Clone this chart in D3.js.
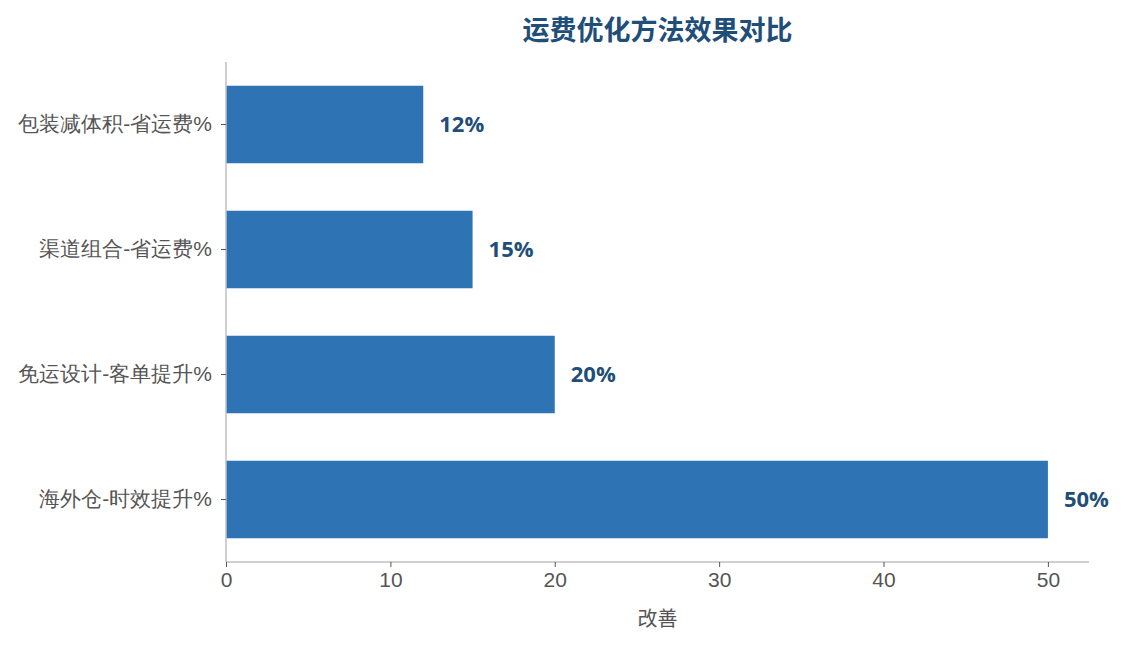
<!DOCTYPE html>
<html>
<head>
<meta charset="utf-8">
<script src="https://cdn.jsdelivr.net/npm/d3@7"></script>
<style>
  body { margin: 0; background: #fff; }
  svg { font-family: "Open Sans", "Noto Sans CJK SC", sans-serif; }
</style>
</head>
<body>
<div id="chart"></div>
<script>
// data
const categories = ["包装减体积-省运费%", "渠道组合-省运费%", "免运设计-客单提升%", "海外仓-时效提升%"];
const values = [12, 15, 20, 50];
const xTicks = [0, 10, 20, 30, 40, 50];

const width = 1125, height = 645;
const margin = {top: 62, right: 36, bottom: 83, left: 226};
const innerW = width - margin.left - margin.right;
const innerH = height - margin.top - margin.bottom;

const svg = d3.select("#chart").append("svg")
    .attr("width", width)
    .attr("height", height);

const g = svg.append("g")
    .attr("transform", `translate(${margin.left},${margin.top})`);

const x = d3.scaleLinear().domain([0, 52.5]).range([0, innerW]);
const y = d3.scaleBand().domain(categories).range([0, innerH])
    .paddingInner(0.38).paddingOuter(0.19);

// bars
g.selectAll("rect.bar")
    .data(categories)
    .join("rect")
    .attr("class", "bar")
    .attr("x", x(0))
    .attr("y", d => y(d))
    .attr("width", (d, i) => x(values[i]) - x(0))
    .attr("height", y.bandwidth())
    .attr("fill", "#2e74b5");

// value labels
g.selectAll("text.val")
    .data(categories)
    .join("text")
    .attr("class", "val")
    .attr("x", (d, i) => x(values[i]) + 16)
    .attr("y", d => y(d) + y.bandwidth() / 2)
    .attr("dy", "0.35em")
    .attr("fill", "#1f4e79")
    .attr("font-weight", "bold")
    .attr("font-size", 22)
    .text((d, i) => values[i] + "%");

// x axis
const xAxis = g.append("g")
    .attr("transform", `translate(0,${innerH})`)
    .call(d3.axisBottom(x).tickValues(xTicks).tickSize(5).tickPadding(5));
xAxis.select(".domain").attr("stroke", "#c0c0c0").attr("stroke-width", 1.5)
    .attr("d", `M0,0H${innerW}`);
xAxis.selectAll(".tick line").attr("stroke", "#555");
xAxis.selectAll(".tick text").attr("fill", "#555").style("font-size", "21px");

// y axis
const yAxis = g.append("g")
    .call(d3.axisLeft(y).tickSize(5).tickPadding(9));
yAxis.select(".domain").attr("stroke", "#c0c0c0").attr("stroke-width", 1.5)
    .attr("d", `M0,0V${innerH}`);
yAxis.selectAll(".tick line").attr("stroke", "#555");
yAxis.selectAll(".tick text").attr("fill", "#555").style("font-size", "21px");

// x label
svg.append("text")
    .attr("x", margin.left + innerW / 2)
    .attr("y", 626)
    .attr("text-anchor", "middle")
    .attr("fill", "#555")
    .attr("font-size", 20)
    .text("改善");

// title
svg.append("text")
    .attr("x", margin.left + innerW / 2)
    .attr("y", 40)
    .attr("text-anchor", "middle")
    .attr("fill", "#1f4e79")
    .attr("font-weight", "bold")
    .attr("font-size", 27)
    .text("运费优化方法效果对比");
</script>
</body>
</html>
